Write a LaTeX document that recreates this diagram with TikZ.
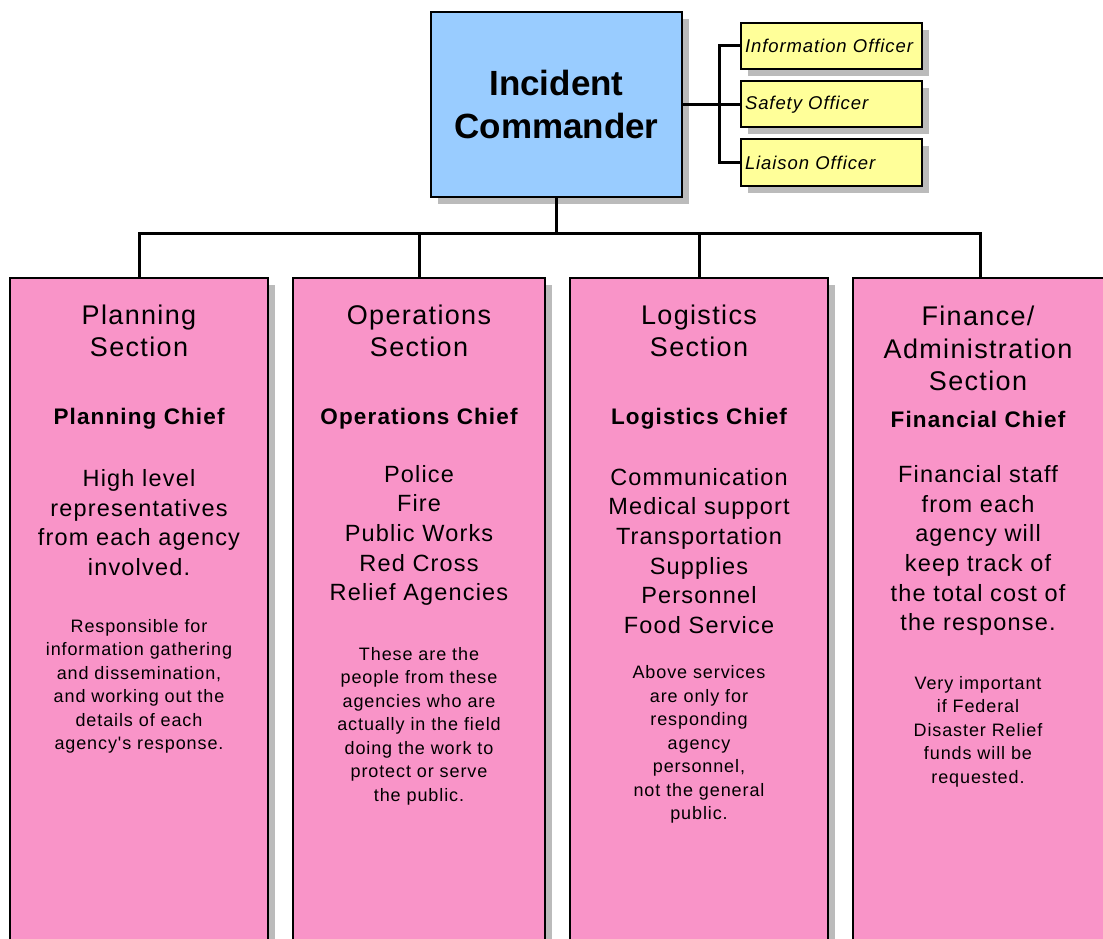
\documentclass[tikz,border=0pt]{standalone}
\usepackage{fontspec}
\setmainfont{Liberation Sans}
\newfontfamily\widefont[LetterSpace=5]{Liberation Sans}
\usetikzlibrary{shadows}
\definecolor{icblue}{RGB}{153,204,255}
\definecolor{officeryellow}{RGB}{255,255,153}
\definecolor{sectionpink}{RGB}{249,148,200}
\definecolor{shadowgray}{RGB}{187,187,187}
\begin{document}
\begin{tikzpicture}[x=1pt,y=-1pt,
    boxshadow/.style={drop shadow={shadow xshift=7pt,shadow yshift=-7pt,fill=shadowgray,opacity=1}},
    commander/.style={draw,line width=2pt,fill=icblue,boxshadow,minimum width=251pt,minimum height=185pt,align=center,font=\fontsize{35}{43}\selectfont\bfseries},
    officer/.style={draw,line width=2pt,fill=officeryellow,boxshadow,minimum height=46pt,text width=173pt,inner xsep=4pt,align=left,font=\widefont\fontsize{18.5}{21}\selectfont\itshape},
    sectionbox/.style={draw,line width=2pt,fill=sectionpink,boxshadow,minimum height=722pt},
    sectiontitle/.style={align=center,font=\widefont\fontsize{27}{32.5}\selectfont},
    chiefname/.style={align=center,font=\widefont\fontsize{22.5}{27}\selectfont\bfseries},
    stafflist/.style={align=center,font=\widefont\fontsize{23.5}{29.7}\selectfont},
    notetext/.style={align=center,font=\widefont\fontsize{18}{23.5}\selectfont},
    link/.style={line width=3pt}]
    \clip (0,0) rectangle (1103,939);
    \node[commander] (ic) at (556.5,104.5) {Incident\\Commander};
    \node[officer] (info) at (831.5,46) {Information Officer};
    \node[officer] (safety) at (831.5,104.5) {Safety Officer};
    \node[officer] (liaison) at (831.5,162.5) {Liaison Officer};
    \node[sectionbox,minimum width=258pt] (plan) at (139,639) {};
    \node[sectionbox,minimum width=252pt] (ops) at (419,639) {};
    \node[sectionbox,minimum width=258pt] (log) at (699,639) {};
    \node[sectionbox,minimum width=254pt] (fin) at (980,639) {};
    \coordinate (spine) at (719,0);
    \coordinate (bar) at (0,233);
    \draw[link] (ic.east) -- (safety.west);
    \draw[link] (info.west) -- (info.west -| spine) -- (liaison.west -| spine) -- (liaison.west);
    \draw[link] (ic.south) -- (ic.south |- bar);
    \draw[link] (plan.north) -- (plan.north |- bar) -- (fin.north |- bar) -- (fin.north);
    \draw[link] (ops.north) -- (ops.north |- bar);
    \draw[link] (log.north) -- (log.north |- bar);
    \node[sectiontitle] (plantitle) at (139,331) {Planning\\Section};
    \node[chiefname] (planchief) at (139,419) {Planning Chief};
    \node[stafflist] (planstaff) at (139,522.5) {High level\\representatives\\from each agency\\involved.};
    \node[notetext] (plannote) at (139,686.5) {Responsible for\\information gathering\\and dissemination,\\and working out the\\details of each\\agency's response.};
    \node[sectiontitle] (opstitle) at (419,331) {Operations\\Section};
    \node[chiefname] (opschief) at (419,419) {Operations Chief};
    \node[stafflist] (opsstaff) at (419,535.5) {Police\\Fire\\Public Works\\Red Cross\\Relief Agencies};
    \node[notetext] (opsnote) at (419,726) {These are the\\people from these\\agencies who are\\actually in the field\\doing the work to\\protect or serve\\the public.};
    \node[sectiontitle] (logtitle) at (699,331) {Logistics\\Section};
    \node[chiefname] (logchief) at (699,419) {Logistics Chief};
    \node[stafflist] (logstaff) at (699,551) {Communication\\Medical support\\Transportation\\Supplies\\Personnel\\Food Service};
    \node[notetext] (lognote) at (699,744.5) {Above services\\are only for\\responding\\agency\\personnel,\\not the general\\public.};
    \node[sectiontitle] (fintitle) at (978,348.5) {Finance/\\Administration\\Section};
    \node[chiefname] (finchief) at (978,419) {Financial Chief};
    \node[stafflist] (finstaff) at (978,550.5) {Financial staff\\from each\\agency will\\keep track of\\the total cost of\\the response.};
    \node[notetext] (finnote) at (978,731.5) {Very important\\if Federal\\Disaster Relief\\funds will be\\requested.};
\end{tikzpicture}
\end{document}
